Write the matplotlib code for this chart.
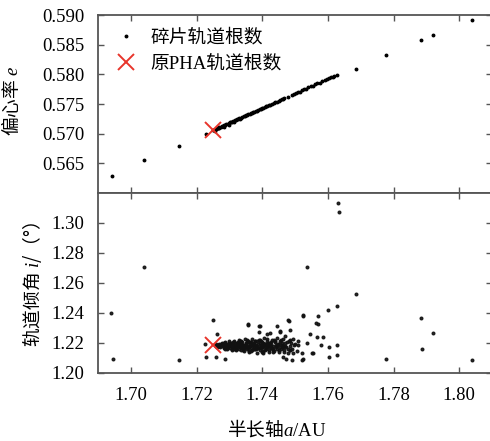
import numpy as np
import matplotlib
matplotlib.use('Agg')
import matplotlib.pyplot as plt

plt.rcParams['font.family'] = ['Liberation Serif', 'Noto Sans CJK SC']
plt.rcParams['mathtext.fontset'] = 'custom'
plt.rcParams['mathtext.rm'] = 'Noto Sans CJK SC'
plt.rcParams['mathtext.it'] = 'Liberation Serif:italic'
plt.rcParams['mathtext.sf'] = 'Liberation Serif'

# fragment orbital elements, top panel (a, e)
a_top = [1.6944, 1.7041, 1.7146, 1.7228,
         1.7250, 1.7254, 1.7258, 1.7262, 1.7266, 1.7270, 1.7275, 1.7280,
         1.7285, 1.7290, 1.7295, 1.7300, 1.7306, 1.7312, 1.7318, 1.7324,
         1.7330, 1.7337, 1.7344, 1.7351, 1.7358, 1.7365, 1.7372, 1.7380,
         1.7388, 1.7396, 1.7404, 1.7412, 1.7420, 1.7430, 1.7440, 1.7450,
         1.7460, 1.7468, 1.7490, 1.7496, 1.7502, 1.7515, 1.7522, 1.7535,
         1.7541, 1.7555, 1.7562, 1.7575, 1.7590, 1.7598, 1.7610, 1.7620,
         1.7628, 1.7256, 1.7268, 1.7283, 1.7298, 1.7315, 1.7334,
         1.7252, 1.7264, 1.7277, 1.7288, 1.7303, 1.7309, 1.7321, 1.7327,
         1.7340, 1.7347, 1.7355, 1.7362, 1.7369, 1.7376, 1.7384, 1.7392,
         1.7400, 1.7408, 1.7416, 1.7425, 1.7435, 1.7445, 1.7455, 1.7464,
         1.7478, 1.7508, 1.7528, 1.7548, 1.7568, 1.7582, 1.7604, 1.7615,
         1.7686, 1.7777, 1.7884, 1.7920, 1.8039]
e_top = [0.5629, 0.5656, 0.5679, 0.5699,
         0.5706, 0.5707, 0.5708, 0.5709, 0.5710, 0.5711, 0.5712, 0.5713,
         0.5714, 0.5716, 0.5717, 0.5718, 0.5720, 0.5721, 0.5723, 0.5724,
         0.5726, 0.5727, 0.5729, 0.5731, 0.5733, 0.5734, 0.5736, 0.5738,
         0.5740, 0.5742, 0.5744, 0.5746, 0.5748, 0.5750, 0.5753, 0.5755,
         0.5758, 0.5760, 0.5765, 0.5767, 0.5768, 0.5771, 0.5773, 0.5776,
         0.5778, 0.5781, 0.5783, 0.5786, 0.5790, 0.5792, 0.5795, 0.5797,
         0.5799, 0.5705, 0.5709, 0.5712, 0.5715, 0.5720, 0.5725,
         0.5707, 0.5710, 0.5713, 0.5715, 0.5719, 0.5720, 0.5723, 0.5724,
         0.5728, 0.5729, 0.5732, 0.5733, 0.5735, 0.5737, 0.5739, 0.5741,
         0.5743, 0.5745, 0.5747, 0.5749, 0.5752, 0.5754, 0.5757, 0.5759,
         0.5762, 0.5770, 0.5775, 0.5780, 0.5785, 0.5788, 0.5793, 0.5796,
         0.5809, 0.5833, 0.5858, 0.5867, 0.5892]

# fragment orbital elements, bottom panel (a, i)
a_bot = [1.6941, 1.6946, 1.7041, 1.7146, 1.7630, 1.7634, 1.7537, 1.7686,
         1.7601, 1.7627, 1.7883, 1.7920, 1.7886, 1.7777, 1.8039,
         1.7251, 1.7261, 1.7227, 1.7229, 1.7258, 1.7287, 1.7358, 1.7390,
         1.7390, 1.7416, 1.7454, 1.7480, 1.7525, 1.7564, 1.7473, 1.7485,
         1.7524, 1.7551, 1.7483, 1.7525, 1.7569, 1.7569, 1.7546, 1.7584,
         1.7568, 1.7627, 1.7605, 1.7627, 1.7605, 1.7578, 1.7556, 1.7520,
         1.7520, 1.7490, 1.7485, 1.7485, 1.7470, 1.7454, 1.7464, 1.7495,
         1.7536, 1.7510, 1.7444, 1.7424, 1.7434, 1.7464, 1.7393, 1.7358,
         1.7403,
         1.7255, 1.7258, 1.7260, 1.7263, 1.7265, 1.7268, 1.7270, 1.7272,
         1.7275, 1.7277, 1.7280, 1.7282, 1.7284, 1.7286, 1.7288, 1.7290,
         1.7292, 1.7294, 1.7296, 1.7298, 1.7300, 1.7302, 1.7304, 1.7306,
         1.7308, 1.7310, 1.7312, 1.7314, 1.7316, 1.7318, 1.7320, 1.7322,
         1.7324, 1.7326, 1.7328, 1.7330, 1.7332, 1.7334, 1.7336, 1.7338,
         1.7340, 1.7342, 1.7344, 1.7346, 1.7348, 1.7350, 1.7352, 1.7354,
         1.7356, 1.7358, 1.7360, 1.7362, 1.7364, 1.7366, 1.7368, 1.7370,
         1.7372, 1.7374, 1.7376, 1.7378, 1.7380, 1.7383, 1.7386, 1.7389,
         1.7392, 1.7395, 1.7398, 1.7401, 1.7404, 1.7407, 1.7410, 1.7413,
         1.7416, 1.7419, 1.7422, 1.7425, 1.7428, 1.7431, 1.7434, 1.7437,
         1.7440, 1.7443, 1.7446, 1.7449, 1.7452, 1.7455, 1.7458, 1.7461,
         1.7464, 1.7467, 1.7470, 1.7474, 1.7478, 1.7482, 1.7486, 1.7490,
         1.7495, 1.7500, 1.7505, 1.7510,
         1.7259, 1.7267, 1.7273, 1.7279, 1.7285, 1.7291, 1.7297, 1.7303,
         1.7309, 1.7315, 1.7321, 1.7327, 1.7333, 1.7339, 1.7345, 1.7351,
         1.7357, 1.7363, 1.7369, 1.7375, 1.7381, 1.7387, 1.7393, 1.7399,
         1.7405, 1.7411, 1.7417, 1.7423,
         1.7287, 1.7299, 1.7313, 1.7325, 1.7335, 1.7347, 1.7353, 1.7361,
         1.7371, 1.7379, 1.7385, 1.7397, 1.7403, 1.7415, 1.7427, 1.7433,
         1.7441, 1.7453, 1.7459, 1.7471, 1.7479, 1.7488,
         1.7283, 1.7293, 1.7305, 1.7311, 1.7319, 1.7329, 1.7337, 1.7343,
         1.7349, 1.7355, 1.7365, 1.7373, 1.7377, 1.7382, 1.7391, 1.7396,
         1.7402, 1.7409, 1.7414, 1.7421, 1.7426, 1.7432, 1.7438, 1.7445,
         1.7451, 1.7457, 1.7462, 1.7468,
         1.7289, 1.7301, 1.7307, 1.7317, 1.7323, 1.7331, 1.7341, 1.7350,
         1.7359, 1.7367, 1.7374, 1.7384, 1.7394, 1.7400, 1.7408, 1.7418,
         1.7429, 1.7436, 1.7444, 1.7450, 1.7460, 1.7476, 1.7484, 1.7498]
i_bot = [1.2401, 1.2094, 1.2707, 1.2087, 1.3134, 1.3072, 1.2707, 1.2528,
         1.2423, 1.2445, 1.2367, 1.2266, 1.2159, 1.2094, 1.2087,
         1.2351, 1.2262, 1.2193, 1.2105, 1.2105, 1.2092, 1.2327, 1.2315,
         1.2273, 1.2257, 1.2273, 1.2351, 1.2385, 1.2334, 1.2092, 1.2154,
         1.2092, 1.2132, 1.2349, 1.2383, 1.2378, 1.2329, 1.2262, 1.2237,
         1.2237, 1.2188, 1.2170, 1.2121, 1.2109, 1.2188, 1.2132, 1.2132,
         1.2087, 1.2087, 1.2221, 1.2288, 1.2244, 1.2277, 1.2177, 1.2132,
         1.2199, 1.2188, 1.2311, 1.2266, 1.2154, 1.2109, 1.2311, 1.2322,
         1.2132,
         1.2185, 1.2180, 1.2190, 1.2176, 1.2188, 1.2195, 1.2182, 1.2170,
         1.2192, 1.2200, 1.2178, 1.2186, 1.2166, 1.2198, 1.2205, 1.2174,
         1.2188, 1.2160, 1.2194, 1.2180, 1.2210, 1.2168, 1.2185, 1.2200,
         1.2158, 1.2176, 1.2192, 1.2215, 1.2170, 1.2184, 1.2150, 1.2203,
         1.2178, 1.2190, 1.2162, 1.2220, 1.2182, 1.2196, 1.2155, 1.2172,
         1.2208, 1.2188, 1.2145, 1.2166, 1.2224, 1.2180, 1.2198, 1.2160,
         1.2212, 1.2175, 1.2140, 1.2190, 1.2205, 1.2168, 1.2228, 1.2150,
         1.2184, 1.2200, 1.2162, 1.2215, 1.2178, 1.2135, 1.2195, 1.2222,
         1.2155, 1.2185, 1.2205, 1.2142, 1.2172, 1.2230, 1.2190, 1.2158,
         1.2212, 1.2176, 1.2138, 1.2198, 1.2165, 1.2220, 1.2182, 1.2148,
         1.2205, 1.2170, 1.2235, 1.2192, 1.2140, 1.2210, 1.2160, 1.2185,
         1.2225, 1.2150, 1.2198, 1.2172, 1.2135, 1.2215, 1.2180, 1.2162,
         1.2228, 1.2195, 1.2145, 1.2210,
         1.2183, 1.2179, 1.2187, 1.2193, 1.2175, 1.2183, 1.2171, 1.2195,
         1.2186, 1.2178, 1.2169, 1.2201, 1.2174, 1.2189, 1.2179, 1.2193,
         1.2165, 1.2181, 1.2196, 1.2174, 1.2188, 1.2167, 1.2199, 1.2178,
         1.2186, 1.2170, 1.2194, 1.2181,
         1.2163, 1.2202, 1.2160, 1.2208, 1.2185, 1.2170, 1.2206, 1.2178,
         1.2192, 1.2157, 1.2210, 1.2168, 1.2198, 1.2183, 1.2205, 1.2163,
         1.2187, 1.2175, 1.2200, 1.2183, 1.2160, 1.2198,
         1.2199, 1.2165, 1.2178, 1.2204, 1.2157, 1.2190, 1.2214, 1.2152,
         1.2182, 1.2218, 1.2148, 1.2186, 1.2211, 1.2160, 1.2176, 1.2216,
         1.2146, 1.2193, 1.2226, 1.2156, 1.2188, 1.2143, 1.2214, 1.2180,
         1.2153, 1.2219, 1.2174, 1.2140,
         1.2172, 1.2190, 1.2153, 1.2198, 1.2181, 1.2213, 1.2168, 1.2196,
         1.2147, 1.2207, 1.2186, 1.2164, 1.2218, 1.2176, 1.2150, 1.2201,
         1.2169, 1.2223, 1.2159, 1.2194, 1.2171, 1.2204, 1.2152, 1.2186]

# original PHA
pha_a = 1.725
pha_e = 0.5707
pha_i = 1.2185

xticks = [1.70, 1.72, 1.74, 1.76, 1.78, 1.80]
e_ticks = [0.565, 0.570, 0.575, 0.580, 0.585, 0.590]
i_ticks = [1.20, 1.22, 1.24, 1.26, 1.28, 1.30]

spine_col = '#555555'
red = '#e8352b'
cjk = 'Noto Sans CJK SC'

fig = plt.figure(figsize=(4.9, 4.41), dpi=100)
ax1 = fig.add_axes([98/490, 1-193/441, 394/490, 178/441])
ax2 = fig.add_axes([98/490, 1-373/441, 394/490, 180/441])

def style(ax):
    for s in ax.spines.values():
        s.set_color(spine_col)
        s.set_linewidth(1.3)
    ax.spines['right'].set_visible(False)
    ax.tick_params(direction='in', top=True, right=True, length=4,
                   width=1.0, color=spine_col, labelsize=13.5, pad=10)

ax1.plot(a_top, e_top, linestyle='none', marker='o', markersize=1.8,
         color='black', label='碎片轨道根数')
ax1.plot([pha_a], [pha_e], linestyle='none', marker='x', markersize=11,
         markeredgewidth=1.4, color=red, label='原PHA轨道根数')
ax1.set_xlim(1.69, 1.81)
ax1.set_ylim(0.560, 0.590)
ax1.set_xticks(xticks)
ax1.set_xticklabels([])
ax1.set_yticks(e_ticks)
ax1.set_yticklabels(['%.3f' % v for v in e_ticks])
ax1.set_ylabel('偏心率 $e$', fontsize=13.5, fontfamily=cjk)
ax1.yaxis.set_label_coords(-0.19, 0.52)
style(ax1)
ax1.legend(loc='upper left', bbox_to_anchor=(0.0, 1.02), frameon=False,
           fontsize=13.5, handlelength=1.2, handletextpad=0.7,
           labelspacing=0.45, markerscale=1.0)

ax2.plot(a_bot, i_bot, linestyle='none', marker='o', markersize=1.9,
         color='#111111', alpha=0.9)
ax2.plot([pha_a], [pha_i], linestyle='none', marker='x', markersize=11,
         markeredgewidth=1.4, color=red)
ax2.set_xlim(1.69, 1.81)
ax2.set_ylim(1.20, 1.32)
ax2.set_xticks(xticks)
ax2.set_xticklabels(['%.2f' % v for v in xticks])
ax2.set_yticks(i_ticks)
ax2.set_yticklabels(['%.2f' % v for v in i_ticks])
ax2.set_ylabel('轨道倾角 $i$/（°）', fontsize=13.5, fontfamily=cjk)
ax2.yaxis.set_label_coords(-0.137, 0.49)
ax2.set_xlabel(r'半长轴$a\mathsf{/AU}$', fontsize=13.5, fontfamily=cjk)
ax2.xaxis.set_label_coords(0.455, -0.255)
style(ax2)

fig.savefig('out.png', dpi=100)
